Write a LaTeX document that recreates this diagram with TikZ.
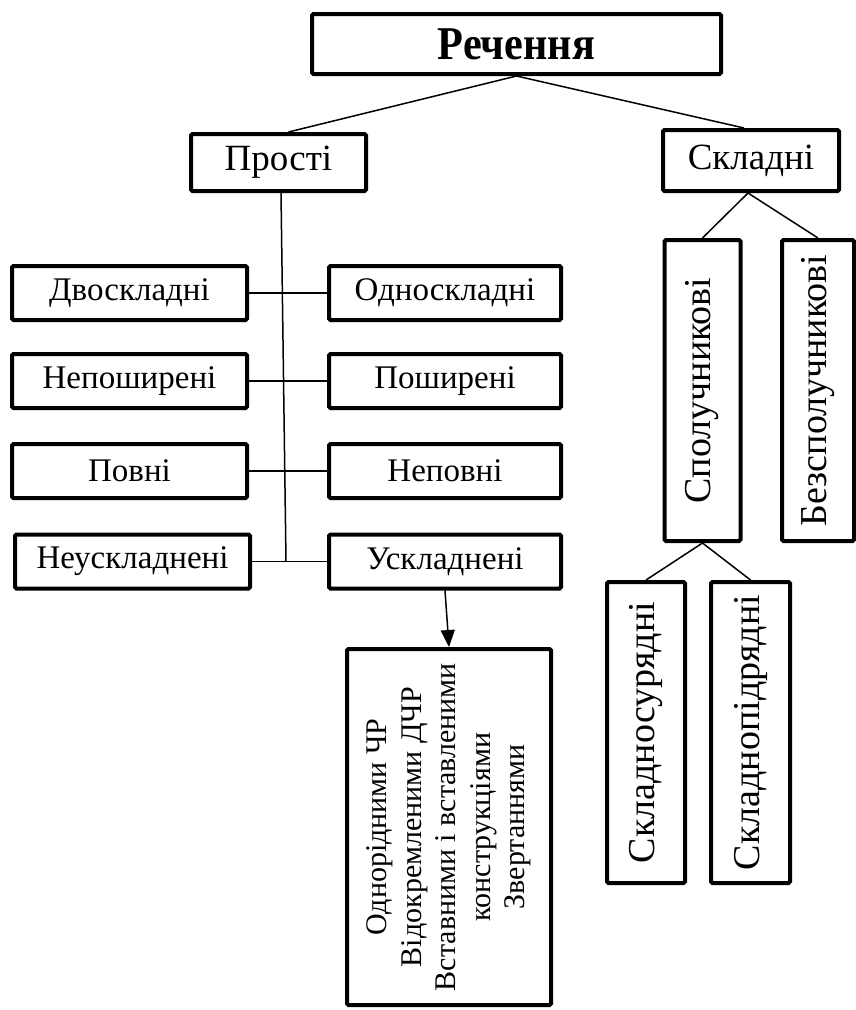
\documentclass[tikz,border=0pt]{standalone}
\usepackage{fontspec}
\setmainfont{Liberation Serif}
\newfontfamily\titlefont{Liberation Serif}[FakeStretch=0.9]
\usetikzlibrary{arrows.meta}

\begin{document}
\begin{tikzpicture}[x=1pt, y=-1pt, >={Triangle[length=17pt,width=14pt]},
    box/.style={draw, line width=4pt, rounded corners=1.5pt, inner sep=0pt,
      align=center, font=\fontsize{33}{38}\selectfont},
    rowbox/.style={box, minimum width=235pt, minimum height=54pt},
    vbox/.style={box, rotate=90, minimum width=301pt, minimum height=76pt,
      font=\fontsize{38}{44}\selectfont},
    link/.style={line width=1.5pt}]
        \useasboundingbox (0,0) rectangle (856,1010);

        % Kopf
        \node[box, minimum width=409pt, minimum height=60pt,
          font=\titlefont\fontsize{47}{54}\selectfont\bfseries] (rech) at (516.5,44) {Речення};
        \node[box, minimum width=175pt, minimum height=57pt,
          font=\fontsize{37}{42}\selectfont] (prosti) at (278.5,162.5) {Прості};
        \node[box, minimum width=176pt, minimum height=61pt,
          font=\fontsize{37}{42}\selectfont] (skladni) at (751,160.5) {Складні};

        % Prosti: Paare
        \node[rowbox] (dvo)     at (129.5,293)   {Двоскладні};
        \node[rowbox, minimum width=232pt] (odno)    at (445,293)     {Односкладні};
        \node[rowbox] (nepo)    at (129.5,381)   {Непоширені};
        \node[rowbox, minimum width=232pt] (posh)    at (445,381)     {Поширені};
        \node[rowbox] (povni)   at (129.5,471)   {Повні};
        \node[rowbox, minimum width=232pt] (nepovni) at (445,471)     {Неповні};
        \node[rowbox] (neuskl)  at (132.5,561.5) {Неускладнені};
        \node[rowbox, minimum width=232pt] (uskl)    at (445,561.5)   {Ускладнені};

        \node[box, rotate=90, minimum width=356pt, minimum height=204pt,
          font=\fontsize{30}{34.5}\selectfont] (spysok) at (449,827)
        {Однорідними ЧР\\Відокремленими ДЧР\\Вставними і вставленими\\конструкціями\\Звертаннями};

        % Skladni
        \node[vbox] (spol)    at (702.5,390.5) {Сполучникові};
        \node[vbox, minimum height=72pt] (bezspol) at (818,390.5) {Безсполучникові};
        \node[vbox, minimum height=78pt] (sur) at (646,732.5)   {Складносурядні};
        \node[vbox, minimum height=79pt] (pid) at (750.5,732.5) {Складнопідрядні};

        % Linien
        \draw[link] (rech.south) -- ([xshift=10pt]prosti.north);
        \draw[link] (rech.south) -- ([xshift=-7pt]skladni.north);
        \coordinate (stem) at (286,561.5);
        \draw[link] ([xshift=2.5pt]prosti.south) -- (stem);
        \foreach \l/\r in {dvo/odno, nepo/posh, povni/nepovni, neuskl/uskl}
        \draw[link] (\l.east) -- (\r.west);
        \draw[link,->] (uskl.south) -- (spysok.east);

        \draw[link] ([xshift=-3pt]skladni.south) -- (spol.east);
        \draw[link] ([xshift=-3pt]skladni.south) -- (bezspol.east);
        \draw[link] (spol.west) -- (sur.east);
        \draw[link] (spol.west) -- (pid.east);
    \end{tikzpicture}
\end{document}
